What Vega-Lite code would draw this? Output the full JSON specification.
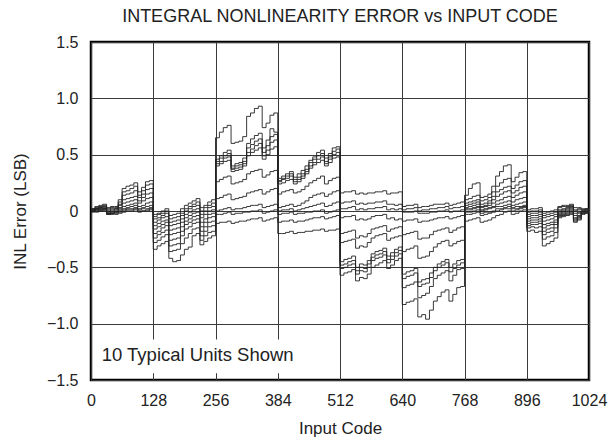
{
  "$schema": "https://vega.github.io/schema/vega-lite/v6.json",
  "width": 498,
  "height": 338,
  "autosize": {"type": "none"},
  "padding": {"left": 91, "top": 42, "right": 19, "bottom": 66},
  "background": "white",
  "title": {"text": "INTEGRAL NONLINEARITY ERROR vs INPUT CODE", "fontSize": 18, "fontWeight": "normal", "color": "#222", "offset": 8, "anchor": "middle", "font": "Liberation Sans"},
  "config": {
    "font": "Liberation Sans",
    "view": {"stroke": "black", "strokeWidth": 2.5},
    "axis": {
      "grid": true, "gridColor": "#3a3a3a", "gridWidth": 1, "gridOpacity": 1,
      "domain": false, "ticks": false, "labelFontSize": 16, "labelColor": "#222",
      "titleFontSize": 17, "titleFontWeight": "normal", "titleColor": "#222", "labelFlush": false
    }
  },
  "layer": [
    {
      "data": {"values": [
        {"c":0,"a":0.02,"b":0.01,"d":0.02,"e":0.00,"f":0.01,"g":0.00,"h":0.01,"i":0.00,"j":0.00,"k":-0.01},
        {"c":8,"a":0.04,"b":0.03,"d":0.02,"e":0.02,"f":0.02,"g":0.01,"h":0.00,"i":0.01,"j":0.01,"k":-0.01},
        {"c":16,"a":0.05,"b":0.04,"d":0.03,"e":0.03,"f":0.02,"g":0.02,"h":0.01,"i":0.01,"j":0.00,"k":0.00},
        {"c":24,"a":0.06,"b":0.05,"d":0.04,"e":0.03,"f":0.02,"g":0.02,"h":0.02,"i":0.01,"j":0.01,"k":0.00},
        {"c":32,"a":0.03,"b":0.02,"d":0.00,"e":0.01,"f":-0.01,"g":-0.02,"h":-0.02,"i":-0.03,"j":-0.03,"k":-0.02},
        {"c":40,"a":0.04,"b":0.03,"d":0.01,"e":0.02,"f":0.00,"g":-0.01,"h":-0.02,"i":-0.02,"j":-0.02,"k":-0.03},
        {"c":48,"a":0.04,"b":0.03,"d":0.02,"e":0.02,"f":0.01,"g":0.00,"h":-0.01,"i":-0.01,"j":-0.02,"k":-0.03},
        {"c":56,"a":0.10,"b":0.08,"d":0.06,"e":0.05,"f":0.03,"g":0.02,"h":0.01,"i":0.00,"j":-0.01,"k":-0.02},
        {"c":64,"a":0.20,"b":0.17,"d":0.14,"e":0.10,"f":0.07,"g":0.04,"h":0.02,"i":0.01,"j":0.00,"k":-0.01},
        {"c":72,"a":0.22,"b":0.18,"d":0.15,"e":0.11,"f":0.08,"g":0.05,"h":0.03,"i":0.02,"j":0.01,"k":0.00},
        {"c":80,"a":0.23,"b":0.20,"d":0.16,"e":0.12,"f":0.09,"g":0.06,"h":0.04,"i":0.02,"j":0.01,"k":0.00},
        {"c":88,"a":0.25,"b":0.22,"d":0.18,"e":0.13,"f":0.10,"g":0.07,"h":0.05,"i":0.03,"j":0.02,"k":0.01},
        {"c":96,"a":0.17,"b":0.14,"d":0.12,"e":0.09,"f":0.07,"g":0.04,"h":0.02,"i":0.01,"j":0.00,"k":-0.01},
        {"c":104,"a":0.21,"b":0.18,"d":0.15,"e":0.12,"f":0.09,"g":0.05,"h":0.03,"i":0.02,"j":0.00,"k":0.00},
        {"c":112,"a":0.26,"b":0.23,"d":0.19,"e":0.15,"f":0.11,"g":0.07,"h":0.04,"i":0.02,"j":0.01,"k":0.00},
        {"c":120,"a":0.27,"b":0.24,"d":0.20,"e":0.16,"f":0.12,"g":0.08,"h":0.05,"i":0.03,"j":0.02,"k":0.01},
        {"c":128,"a":-0.03,"b":-0.05,"d":-0.07,"e":-0.10,"f":-0.13,"g":-0.16,"h":-0.20,"i":-0.24,"j":-0.28,"k":-0.34},
        {"c":136,"a":-0.02,"b":-0.03,"d":-0.06,"e":-0.08,"f":-0.11,"g":-0.14,"h":-0.18,"i":-0.21,"j":-0.26,"k":-0.31},
        {"c":144,"a":0.00,"b":-0.02,"d":-0.04,"e":-0.06,"f":-0.09,"g":-0.12,"h":-0.15,"i":-0.19,"j":-0.23,"k":-0.29},
        {"c":152,"a":0.02,"b":0.00,"d":-0.02,"e":-0.05,"f":-0.08,"g":-0.10,"h":-0.13,"i":-0.17,"j":-0.21,"k":-0.27},
        {"c":160,"a":-0.04,"b":-0.07,"d":-0.10,"e":-0.13,"f":-0.17,"g":-0.21,"h":-0.26,"i":-0.31,"j":-0.36,"k":-0.42},
        {"c":168,"a":-0.03,"b":-0.06,"d":-0.09,"e":-0.12,"f":-0.16,"g":-0.20,"h":-0.25,"i":-0.30,"j":-0.35,"k":-0.45},
        {"c":176,"a":-0.02,"b":-0.05,"d":-0.08,"e":-0.11,"f":-0.15,"g":-0.19,"h":-0.24,"i":-0.29,"j":-0.34,"k":-0.44},
        {"c":184,"a":0.02,"b":-0.02,"d":-0.04,"e":-0.07,"f":-0.10,"g":-0.14,"h":-0.18,"i":-0.22,"j":-0.29,"k":-0.39},
        {"c":192,"a":0.05,"b":0.02,"d":0.00,"e":-0.03,"f":-0.06,"g":-0.09,"h":-0.12,"i":-0.16,"j":-0.24,"k":-0.34},
        {"c":200,"a":0.07,"b":0.04,"d":0.02,"e":-0.01,"f":-0.04,"g":-0.07,"h":-0.10,"i":-0.14,"j":-0.20,"k":-0.32},
        {"c":208,"a":0.09,"b":0.06,"d":0.04,"e":0.01,"f":-0.02,"g":-0.05,"h":-0.08,"i":-0.11,"j":-0.16,"k":-0.22},
        {"c":216,"a":0.11,"b":0.08,"d":0.05,"e":0.02,"f":-0.01,"g":-0.04,"h":-0.07,"i":-0.10,"j":-0.15,"k":-0.20},
        {"c":224,"a":0.03,"b":0.00,"d":-0.03,"e":-0.06,"f":-0.10,"g":-0.14,"h":-0.18,"i":-0.22,"j":-0.26,"k":-0.30},
        {"c":232,"a":0.05,"b":0.03,"d":0.00,"e":-0.03,"f":-0.07,"g":-0.10,"h":-0.14,"i":-0.18,"j":-0.22,"k":-0.27},
        {"c":240,"a":0.08,"b":0.05,"d":0.03,"e":0.00,"f":-0.03,"g":-0.06,"h":-0.10,"i":-0.14,"j":-0.19,"k":-0.24},
        {"c":248,"a":0.10,"b":0.07,"d":0.04,"e":0.01,"f":-0.02,"g":-0.05,"h":-0.09,"i":-0.13,"j":-0.18,"k":-0.22},
        {"c":256,"a":0.65,"b":0.46,"d":0.44,"e":0.42,"f":0.40,"g":0.26,"h":0.11,"i":0.00,"j":-0.03,"k":-0.11},
        {"c":264,"a":0.70,"b":0.49,"d":0.47,"e":0.44,"f":0.42,"g":0.28,"h":0.12,"i":0.01,"j":-0.03,"k":-0.10},
        {"c":272,"a":0.74,"b":0.52,"d":0.49,"e":0.47,"f":0.44,"g":0.30,"h":0.14,"i":0.02,"j":-0.02,"k":-0.10},
        {"c":280,"a":0.76,"b":0.54,"d":0.51,"e":0.48,"f":0.45,"g":0.31,"h":0.15,"i":0.03,"j":-0.01,"k":-0.09},
        {"c":288,"a":0.60,"b":0.40,"d":0.38,"e":0.37,"f":0.35,"g":0.24,"h":0.10,"i":0.01,"j":-0.03,"k":-0.11},
        {"c":296,"a":0.61,"b":0.42,"d":0.40,"e":0.38,"f":0.36,"g":0.25,"h":0.11,"i":0.02,"j":-0.02,"k":-0.10},
        {"c":304,"a":0.62,"b":0.43,"d":0.41,"e":0.39,"f":0.37,"g":0.26,"h":0.12,"i":0.02,"j":-0.02,"k":-0.09},
        {"c":312,"a":0.66,"b":0.47,"d":0.44,"e":0.42,"f":0.40,"g":0.28,"h":0.13,"i":0.03,"j":-0.01,"k":-0.09},
        {"c":320,"a":0.84,"b":0.60,"d":0.56,"e":0.52,"f":0.49,"g":0.33,"h":0.16,"i":0.04,"j":-0.01,"k":-0.08},
        {"c":328,"a":0.87,"b":0.64,"d":0.59,"e":0.55,"f":0.52,"g":0.35,"h":0.17,"i":0.05,"j":0.00,"k":-0.07},
        {"c":336,"a":0.91,"b":0.67,"d":0.62,"e":0.58,"f":0.54,"g":0.36,"h":0.18,"i":0.05,"j":0.00,"k":-0.07},
        {"c":344,"a":0.93,"b":0.69,"d":0.64,"e":0.60,"f":0.56,"g":0.37,"h":0.19,"i":0.06,"j":0.01,"k":-0.06},
        {"c":352,"a":0.74,"b":0.56,"d":0.52,"e":0.49,"f":0.46,"g":0.30,"h":0.15,"i":0.03,"j":-0.02,"k":-0.09},
        {"c":360,"a":0.78,"b":0.63,"d":0.58,"e":0.54,"f":0.50,"g":0.32,"h":0.17,"i":0.04,"j":-0.01,"k":-0.08},
        {"c":368,"a":0.85,"b":0.73,"d":0.66,"e":0.61,"f":0.55,"g":0.35,"h":0.19,"i":0.05,"j":0.00,"k":-0.07},
        {"c":376,"a":0.87,"b":0.70,"d":0.68,"e":0.63,"f":0.57,"g":0.36,"h":0.20,"i":0.06,"j":0.01,"k":-0.06},
        {"c":384,"a":0.29,"b":0.27,"d":0.26,"e":0.24,"f":0.15,"g":0.03,"h":0.00,"i":-0.03,"j":-0.10,"k":-0.20},
        {"c":392,"a":0.31,"b":0.29,"d":0.28,"e":0.25,"f":0.17,"g":0.04,"h":0.01,"i":-0.02,"j":-0.09,"k":-0.20},
        {"c":400,"a":0.33,"b":0.31,"d":0.29,"e":0.27,"f":0.18,"g":0.05,"h":0.01,"i":-0.02,"j":-0.09,"k":-0.19},
        {"c":408,"a":0.35,"b":0.33,"d":0.31,"e":0.28,"f":0.19,"g":0.06,"h":0.02,"i":-0.01,"j":-0.08,"k":-0.18},
        {"c":416,"a":0.30,"b":0.28,"d":0.26,"e":0.24,"f":0.16,"g":0.04,"h":0.00,"i":-0.03,"j":-0.10,"k":-0.20},
        {"c":424,"a":0.33,"b":0.30,"d":0.28,"e":0.26,"f":0.17,"g":0.05,"h":0.01,"i":-0.02,"j":-0.09,"k":-0.19},
        {"c":432,"a":0.36,"b":0.33,"d":0.31,"e":0.29,"f":0.19,"g":0.07,"h":0.02,"i":-0.02,"j":-0.09,"k":-0.19},
        {"c":440,"a":0.40,"b":0.37,"d":0.35,"e":0.33,"f":0.22,"g":0.09,"h":0.03,"i":-0.01,"j":-0.08,"k":-0.18},
        {"c":448,"a":0.45,"b":0.43,"d":0.40,"e":0.38,"f":0.25,"g":0.12,"h":0.04,"i":-0.01,"j":-0.07,"k":-0.18},
        {"c":456,"a":0.48,"b":0.46,"d":0.43,"e":0.41,"f":0.27,"g":0.14,"h":0.05,"i":0.00,"j":-0.06,"k":-0.17},
        {"c":464,"a":0.52,"b":0.49,"d":0.46,"e":0.43,"f":0.29,"g":0.15,"h":0.06,"i":0.00,"j":-0.06,"k":-0.17},
        {"c":472,"a":0.54,"b":0.51,"d":0.48,"e":0.45,"f":0.31,"g":0.16,"h":0.07,"i":0.01,"j":-0.05,"k":-0.16},
        {"c":480,"a":0.47,"b":0.44,"d":0.42,"e":0.40,"f":0.24,"g":0.13,"h":0.04,"i":-0.02,"j":-0.07,"k":-0.18},
        {"c":488,"a":0.51,"b":0.48,"d":0.46,"e":0.43,"f":0.27,"g":0.15,"h":0.05,"i":-0.01,"j":-0.06,"k":-0.17},
        {"c":496,"a":0.56,"b":0.53,"d":0.50,"e":0.47,"f":0.29,"g":0.17,"h":0.07,"i":0.00,"j":-0.05,"k":-0.17},
        {"c":504,"a":0.57,"b":0.55,"d":0.52,"e":0.48,"f":0.30,"g":0.18,"h":0.08,"i":0.01,"j":-0.04,"k":-0.16},
        {"c":512,"a":0.16,"b":0.07,"d":0.02,"e":-0.06,"f":-0.20,"g":-0.28,"h":-0.45,"i":-0.48,"j":-0.51,"k":-0.57},
        {"c":520,"a":0.17,"b":0.08,"d":0.02,"e":-0.05,"f":-0.19,"g":-0.27,"h":-0.43,"i":-0.47,"j":-0.50,"k":-0.55},
        {"c":528,"a":0.17,"b":0.08,"d":0.03,"e":-0.05,"f":-0.18,"g":-0.26,"h":-0.42,"i":-0.45,"j":-0.48,"k":-0.54},
        {"c":536,"a":0.18,"b":0.09,"d":0.04,"e":-0.04,"f":-0.17,"g":-0.25,"h":-0.40,"i":-0.44,"j":-0.47,"k":-0.52},
        {"c":544,"a":0.15,"b":0.06,"d":0.01,"e":-0.08,"f":-0.24,"g":-0.33,"h":-0.50,"i":-0.53,"j":-0.56,"k":-0.62},
        {"c":552,"a":0.16,"b":0.07,"d":0.02,"e":-0.07,"f":-0.22,"g":-0.31,"h":-0.47,"i":-0.50,"j":-0.53,"k":-0.59},
        {"c":560,"a":0.15,"b":0.06,"d":0.01,"e":-0.08,"f":-0.23,"g":-0.32,"h":-0.48,"i":-0.51,"j":-0.54,"k":-0.60},
        {"c":568,"a":0.16,"b":0.07,"d":0.02,"e":-0.07,"f":-0.20,"g":-0.28,"h":-0.44,"i":-0.47,"j":-0.50,"k":-0.56},
        {"c":576,"a":0.16,"b":0.07,"d":0.02,"e":-0.05,"f":-0.16,"g":-0.24,"h":-0.38,"i":-0.41,"j":-0.44,"k":-0.50},
        {"c":584,"a":0.17,"b":0.08,"d":0.03,"e":-0.04,"f":-0.15,"g":-0.22,"h":-0.36,"i":-0.39,"j":-0.42,"k":-0.48},
        {"c":592,"a":0.17,"b":0.08,"d":0.03,"e":-0.04,"f":-0.14,"g":-0.21,"h":-0.35,"i":-0.38,"j":-0.41,"k":-0.46},
        {"c":600,"a":0.18,"b":0.09,"d":0.04,"e":-0.03,"f":-0.13,"g":-0.20,"h":-0.33,"i":-0.36,"j":-0.39,"k":-0.44},
        {"c":608,"a":0.15,"b":0.06,"d":0.01,"e":-0.07,"f":-0.18,"g":-0.26,"h":-0.40,"i":-0.43,"j":-0.46,"k":-0.51},
        {"c":616,"a":0.16,"b":0.06,"d":0.02,"e":-0.06,"f":-0.16,"g":-0.24,"h":-0.37,"i":-0.40,"j":-0.43,"k":-0.48},
        {"c":624,"a":0.16,"b":0.05,"d":0.01,"e":-0.08,"f":-0.15,"g":-0.23,"h":-0.34,"i":-0.37,"j":-0.40,"k":-0.44},
        {"c":632,"a":0.17,"b":0.06,"d":0.02,"e":-0.07,"f":-0.14,"g":-0.22,"h":-0.32,"i":-0.35,"j":-0.38,"k":-0.42},
        {"c":640,"a":0.04,"b":0.01,"d":-0.01,"e":-0.09,"f":-0.21,"g":-0.36,"h":-0.56,"i":-0.60,"j":-0.68,"k":-0.83},
        {"c":648,"a":0.05,"b":0.02,"d":-0.01,"e":-0.08,"f":-0.20,"g":-0.34,"h":-0.54,"i":-0.58,"j":-0.66,"k":-0.81},
        {"c":656,"a":0.05,"b":0.02,"d":-0.01,"e":-0.08,"f":-0.19,"g":-0.33,"h":-0.53,"i":-0.57,"j":-0.65,"k":-0.80},
        {"c":664,"a":0.06,"b":0.03,"d":0.00,"e":-0.07,"f":-0.18,"g":-0.31,"h":-0.51,"i":-0.55,"j":-0.63,"k":-0.78},
        {"c":672,"a":0.03,"b":0.00,"d":-0.02,"e":-0.10,"f":-0.25,"g":-0.42,"h":-0.63,"i":-0.67,"j":-0.77,"k":-0.94},
        {"c":680,"a":0.04,"b":0.01,"d":-0.02,"e":-0.09,"f":-0.24,"g":-0.41,"h":-0.61,"i":-0.65,"j":-0.75,"k":-0.92},
        {"c":688,"a":0.04,"b":0.01,"d":-0.02,"e":-0.09,"f":-0.24,"g":-0.40,"h":-0.60,"i":-0.64,"j":-0.73,"k":-0.96},
        {"c":696,"a":0.05,"b":0.02,"d":-0.01,"e":-0.08,"f":-0.21,"g":-0.36,"h":-0.55,"i":-0.59,"j":-0.67,"k":-0.88},
        {"c":704,"a":0.06,"b":0.02,"d":-0.01,"e":-0.07,"f":-0.18,"g":-0.32,"h":-0.50,"i":-0.53,"j":-0.60,"k":-0.80},
        {"c":712,"a":0.06,"b":0.03,"d":0.00,"e":-0.06,"f":-0.17,"g":-0.29,"h":-0.47,"i":-0.50,"j":-0.57,"k":-0.76},
        {"c":720,"a":0.06,"b":0.03,"d":0.00,"e":-0.06,"f":-0.16,"g":-0.27,"h":-0.45,"i":-0.48,"j":-0.55,"k":-0.72},
        {"c":728,"a":0.07,"b":0.04,"d":0.01,"e":-0.05,"f":-0.15,"g":-0.26,"h":-0.43,"i":-0.46,"j":-0.53,"k":-0.70},
        {"c":736,"a":0.05,"b":0.02,"d":-0.01,"e":-0.07,"f":-0.19,"g":-0.31,"h":-0.50,"i":-0.54,"j":-0.62,"k":-0.80},
        {"c":744,"a":0.06,"b":0.03,"d":0.00,"e":-0.06,"f":-0.17,"g":-0.29,"h":-0.47,"i":-0.51,"j":-0.57,"k":-0.74},
        {"c":752,"a":0.07,"b":0.03,"d":0.00,"e":-0.05,"f":-0.15,"g":-0.27,"h":-0.44,"i":-0.48,"j":-0.52,"k":-0.68},
        {"c":760,"a":0.08,"b":0.04,"d":0.01,"e":-0.04,"f":-0.14,"g":-0.26,"h":-0.43,"i":-0.46,"j":-0.51,"k":-0.67},
        {"c":768,"a":0.14,"b":0.10,"d":0.07,"e":0.05,"f":0.03,"g":0.02,"h":0.01,"i":-0.01,"j":-0.03,"k":-0.09},
        {"c":776,"a":0.20,"b":0.11,"d":0.08,"e":0.06,"f":0.04,"g":0.02,"h":0.01,"i":-0.01,"j":-0.03,"k":-0.08},
        {"c":784,"a":0.24,"b":0.13,"d":0.09,"e":0.07,"f":0.05,"g":0.03,"h":0.02,"i":0.00,"j":-0.02,"k":-0.07},
        {"c":792,"a":0.25,"b":0.14,"d":0.10,"e":0.08,"f":0.06,"g":0.04,"h":0.03,"i":0.01,"j":-0.01,"k":-0.06},
        {"c":800,"a":0.12,"b":0.09,"d":0.06,"e":0.04,"f":0.03,"g":0.01,"h":0.00,"i":-0.02,"j":-0.04,"k":-0.10},
        {"c":808,"a":0.13,"b":0.10,"d":0.07,"e":0.05,"f":0.04,"g":0.02,"h":0.01,"i":-0.01,"j":-0.03,"k":-0.09},
        {"c":816,"a":0.15,"b":0.12,"d":0.09,"e":0.07,"f":0.05,"g":0.03,"h":0.02,"i":-0.01,"j":-0.02,"k":-0.08},
        {"c":824,"a":0.22,"b":0.17,"d":0.13,"e":0.10,"f":0.07,"g":0.04,"h":0.03,"i":0.00,"j":-0.01,"k":-0.06},
        {"c":832,"a":0.31,"b":0.22,"d":0.17,"e":0.13,"f":0.09,"g":0.06,"h":0.04,"i":0.02,"j":0.00,"k":-0.04},
        {"c":840,"a":0.35,"b":0.25,"d":0.19,"e":0.15,"f":0.10,"g":0.07,"h":0.04,"i":0.02,"j":0.01,"k":-0.03},
        {"c":848,"a":0.40,"b":0.28,"d":0.21,"e":0.17,"f":0.12,"g":0.08,"h":0.05,"i":0.03,"j":0.02,"k":-0.01},
        {"c":856,"a":0.41,"b":0.29,"d":0.22,"e":0.18,"f":0.13,"g":0.09,"h":0.06,"i":0.04,"j":0.02,"k":0.00},
        {"c":864,"a":0.26,"b":0.20,"d":0.16,"e":0.12,"f":0.08,"g":0.05,"h":0.03,"i":0.02,"j":0.00,"k":-0.03},
        {"c":872,"a":0.30,"b":0.23,"d":0.18,"e":0.14,"f":0.10,"g":0.06,"h":0.04,"i":0.02,"j":0.01,"k":-0.02},
        {"c":880,"a":0.34,"b":0.26,"d":0.21,"e":0.16,"f":0.11,"g":0.07,"h":0.04,"i":0.03,"j":0.02,"k":0.00},
        {"c":888,"a":0.35,"b":0.27,"d":0.22,"e":0.17,"f":0.12,"g":0.08,"h":0.05,"i":0.04,"j":0.03,"k":0.01},
        {"c":896,"a":0.01,"b":-0.01,"d":-0.03,"e":-0.05,"f":-0.07,"g":-0.09,"h":-0.11,"i":-0.13,"j":-0.15,"k":-0.18},
        {"c":904,"a":0.02,"b":0.00,"d":-0.02,"e":-0.04,"f":-0.06,"g":-0.08,"h":-0.10,"i":-0.12,"j":-0.14,"k":-0.17},
        {"c":912,"a":0.02,"b":0.00,"d":-0.02,"e":-0.04,"f":-0.06,"g":-0.08,"h":-0.10,"i":-0.12,"j":-0.15,"k":-0.19},
        {"c":920,"a":0.03,"b":0.01,"d":-0.01,"e":-0.03,"f":-0.05,"g":-0.07,"h":-0.09,"i":-0.11,"j":-0.14,"k":-0.18},
        {"c":928,"a":-0.02,"b":-0.04,"d":-0.06,"e":-0.09,"f":-0.12,"g":-0.15,"h":-0.18,"i":-0.21,"j":-0.25,"k":-0.31},
        {"c":936,"a":-0.01,"b":-0.03,"d":-0.05,"e":-0.08,"f":-0.11,"g":-0.13,"h":-0.16,"i":-0.19,"j":-0.23,"k":-0.29},
        {"c":944,"a":0.00,"b":-0.02,"d":-0.04,"e":-0.07,"f":-0.10,"g":-0.12,"h":-0.15,"i":-0.18,"j":-0.22,"k":-0.27},
        {"c":952,"a":0.01,"b":-0.01,"d":-0.03,"e":-0.05,"f":-0.08,"g":-0.10,"h":-0.12,"i":-0.15,"j":-0.19,"k":-0.24},
        {"c":960,"a":0.04,"b":0.03,"d":0.01,"e":0.00,"f":-0.01,"g":-0.02,"h":-0.03,"i":-0.04,"j":-0.05,"k":-0.06},
        {"c":968,"a":0.05,"b":0.04,"d":0.02,"e":0.01,"f":0.00,"g":-0.01,"h":-0.02,"i":-0.03,"j":-0.04,"k":-0.05},
        {"c":976,"a":0.05,"b":0.04,"d":0.03,"e":0.02,"f":0.01,"g":0.00,"h":-0.01,"i":-0.02,"j":-0.03,"k":-0.04},
        {"c":984,"a":0.06,"b":0.05,"d":0.04,"e":0.03,"f":0.02,"g":0.01,"h":0.00,"i":-0.01,"j":-0.02,"k":-0.03},
        {"c":992,"a":0.03,"b":0.01,"d":0.00,"e":-0.02,"f":-0.04,"g":-0.06,"h":-0.07,"i":-0.08,"j":-0.09,"k":-0.10},
        {"c":1000,"a":0.03,"b":0.02,"d":0.01,"e":-0.01,"f":-0.02,"g":-0.04,"h":-0.05,"i":-0.06,"j":-0.07,"k":-0.08},
        {"c":1008,"a":0.02,"b":0.01,"d":0.01,"e":0.00,"f":0.00,"g":-0.01,"h":-0.01,"i":-0.02,"j":-0.02,"k":-0.03},
        {"c":1016,"a":0.02,"b":0.02,"d":0.01,"e":0.01,"f":0.00,"g":0.00,"h":-0.01,"i":-0.01,"j":-0.02,"k":-0.02},
        {"c":1024,"a":0.02,"b":0.02,"d":0.01,"e":0.01,"f":0.00,"g":0.00,"h":-0.01,"i":-0.01,"j":-0.02,"k":-0.02}
      ]},
      "transform": [{"fold": ["a","b","d","e","f","g","h","i","j","k"], "as": ["unit","inl"]}],
      "mark": {"type": "line", "interpolate": "step-after", "strokeWidth": 0.9, "color": "#222"},
      "encoding": {
        "x": {"field": "c", "type": "quantitative", "scale": {"domain": [0, 1024], "nice": false},
          "axis": {"values": [0,128,256,384,512,640,768,896,1024], "format": "d", "title": "Input Code", "labelPadding": 12, "titlePadding": 12}},
        "y": {"field": "inl", "type": "quantitative", "scale": {"domain": [-1.5, 1.5], "nice": false},
          "axis": {"values": [-1.5,-1,-0.5,0,0.5,1,1.5], "title": "INL Error (LSB)", "labelPadding": 13, "titlePadding": 17,
            "labelExpr": "datum.value == 0 ? '0' : replace(format(datum.value, '.1f'), '-', '\u2212')"}},
        "detail": {"field": "unit"}
      }
    },
    {
      "data": {"values": [{"x1": 5, "x2": 430, "y1": -1.44, "y2": -1.14}]},
      "mark": {"type": "rect", "fill": "white"},
      "encoding": {
        "x": {"field": "x1", "type": "quantitative"},
        "x2": {"field": "x2"},
        "y": {"field": "y1", "type": "quantitative"},
        "y2": {"field": "y2"}
      }
    },
    {
      "data": {"values": [{"c": 22, "v": -1.28, "t": "10 Typical Units Shown"}]},
      "mark": {"type": "text", "align": "left", "baseline": "middle", "fontSize": 18.5, "color": "#222"},
      "encoding": {
        "x": {"field": "c", "type": "quantitative"},
        "y": {"field": "v", "type": "quantitative"},
        "text": {"field": "t"}
      }
    }
  ]
}
